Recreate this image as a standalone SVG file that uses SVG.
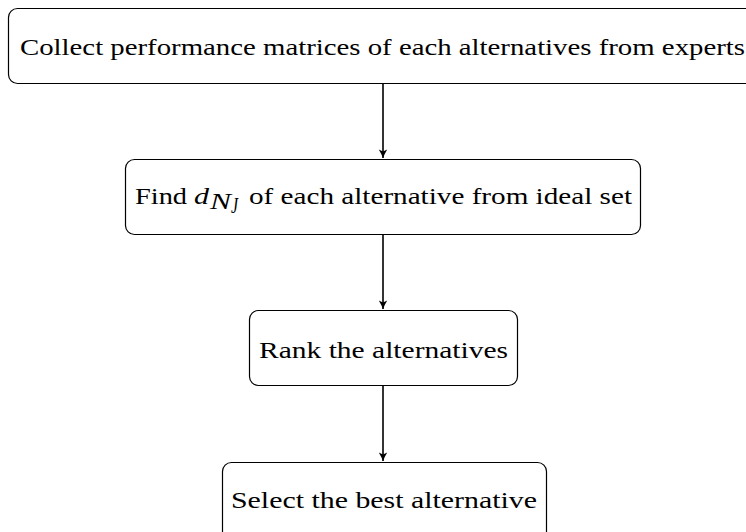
<svg xmlns="http://www.w3.org/2000/svg" width="746" height="532" viewBox="0 0 746 532">
<style>
.box{fill:#fff;stroke:#000;stroke-width:1.2}
.t{font-family:"Liberation Serif","DejaVu Serif",serif;font-size:24px;fill:#000}
.e{stroke:#000;stroke-width:1.6;fill:none}
</style>
<defs>
<marker id="ah" markerWidth="12" markerHeight="12" refX="9" refY="5" orient="auto" markerUnits="userSpaceOnUse">
<path d="M0.5,0.8 Q5,3.5 9,5 Q5,6.5 0.5,9.2 L2.5,5 Z" fill="#000"/>
</marker>
</defs>
<rect width="746" height="532" fill="#fff"/>
<g id="n1"><rect class="box" x="8.5" y="8.5" width="750" height="75" rx="9"/><text class="t" x="20" y="55" textLength="725" lengthAdjust="spacingAndGlyphs">Collect performance matrices of each alternatives from experts</text></g>
<g id="n2"><rect class="box" x="125.5" y="159.5" width="515" height="75" rx="9"/>
<text class="t" x="135" y="204" textLength="52" lengthAdjust="spacingAndGlyphs">Find</text>
<text class="t" x="194" y="204" font-style="italic" textLength="15" lengthAdjust="spacingAndGlyphs">d</text>
<text class="t" x="210" y="208.5" font-style="italic" font-size="15" textLength="21" lengthAdjust="spacingAndGlyphs">N</text>
<text class="t" x="231" y="213" font-style="italic" font-size="11" textLength="7" lengthAdjust="spacingAndGlyphs">J</text>
<text class="t" x="249" y="204" textLength="383" lengthAdjust="spacingAndGlyphs">of each alternative from ideal set</text></g>
<g id="n3"><rect class="box" x="249.5" y="310.5" width="268" height="75" rx="9"/><text class="t" x="259" y="358" textLength="249" lengthAdjust="spacingAndGlyphs">Rank the alternatives</text></g>
<g id="n4"><rect class="box" x="222.5" y="462.5" width="324" height="80" rx="9"/><text class="t" x="231" y="508" textLength="306" lengthAdjust="spacingAndGlyphs">Select the best alternative</text></g>
<g id="edges">
<line class="e" x1="383" y1="84" x2="383" y2="158" marker-end="url(#ah)"/>
<line class="e" x1="383" y1="235" x2="383" y2="309" marker-end="url(#ah)"/>
<line class="e" x1="383" y1="386" x2="383" y2="461" marker-end="url(#ah)"/>
</g>
</svg>
